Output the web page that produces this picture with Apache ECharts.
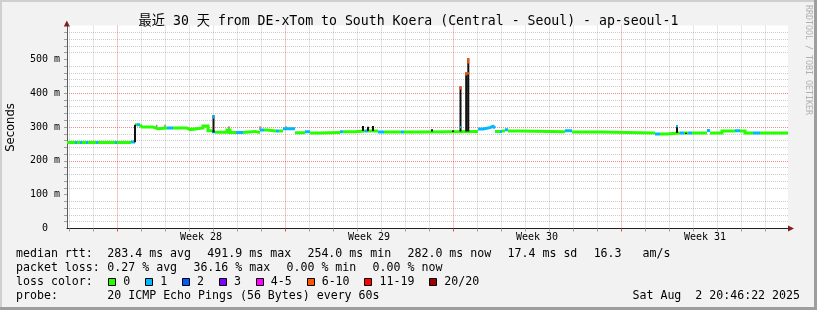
<!DOCTYPE html>
<html><head><meta charset="utf-8">
<script src="https://cdn.jsdelivr.net/npm/echarts@6/dist/echarts.min.js"></script>
<style>html,body{margin:0;padding:0;background:#f2f2f2}#c{width:817px;height:310px}</style>
</head><body><div id="c"></div>
<script>
// ---------- data ----------
const titleText = '最近 30 天 from DE-xTom to South Koera (Central - Seoul) - ap-seoul-1';
const yAxisTitle = 'Seconds';
const watermark = 'RRDTOOL / TOBI OETIKER';
const weekLabels = ['Week 28', 'Week 29', 'Week 30', 'Week 31'];
const yTickLabels = ['0  ', '100 m', '200 m', '300 m', '400 m', '500 m'];
// time in hours relative to the start of Week 28; chart spans 30 days
const xMin = -50, xMax = 671;
// median rtt (ms) as steps: start hour, value, loss bucket index
const medianHours = [-50,-42,-40,-37,-35,-31,-29,-21,-19,-2,0,14,18,20,23,25,36,41,50,56,70,73,86,91,95,98,110,113,119,126,128,138,143,147,150,159,162,166,178,188,193,203,223,226,238,248,251,261,267,284,287,303,361,366,373,376,378,383,385,388,391,403,448,455,483,523,538,543,549,563,567,571,575,590,593,605,618,623,628,636,643];
const medianMs    = [254.5,254.5,254.5,254.5,254.5,254.5,254.5,254.5,254.5,254.5,254.5,255.5,306.5,306.5,306.5,299.7,294.7,297.3,297.3,297.3,292.3,297,303,289,286,284.3,291,284,284,284,287,284,291,291,288,288,288,295,283,286,282,284,286,286,288,288,288,285,285,285,285,287,294,298,302,297,287,287,288,292,288,286,289,285,283,282,279,279,282,282,282,282,282,290,282,288,289,288,282,282,282];
const medianLoss  = [0,1,0,1,0,1,0,1,0,1,0,1,0,1,0,0,0,0,1,0,0,0,0,0,1,0,0,0,1,0,0,0,1,0,0,1,0,1,0,1,0,0,1,0,0,1,0,1,0,1,0,0,1,1,1,1,0,1,0,1,0,0,1,0,0,0,1,0,0,1,0,1,0,1,0,0,1,0,0,1,0];
// dark smoke spikes (ms)
const spikeHours = [18, 96.5, 246, 251, 256, 315, 336, 343.5, 349.2, 351.3, 560, 569];
const spikeLow   = [255, 284, 288, 288, 288, 287, 285, 287, 287, 287, 282, 279];
const spikeHigh  = [307, 335, 303, 301, 303, 293, 290, 420, 461, 503, 306, 283];
// light smoke ticks (ms)
const smokeHours = [39.7, 48, 112, 143, 169];
const smokeLow   = [297, 297, 291, 291, 295];
const smokeHigh  = [307, 307, 302, 302, 302];
// coloured tops of spikes: loss bucket index
const topHours = [343.5, 349.2, 351.3, 351.3, 96.5, 560, 343.5];
const topLow   = [411, 452, 488, 455, 325, 299, 296];
const topHigh  = [420, 461, 503, 462, 335, 306, 302];
const topLoss  = [5, 5, 5, 5, 1, 1, 1];
// legend / statistics
const rttLabel = 'median rtt:';
const rttStats = ['283.4 ms avg', '491.9 ms max', '254.0 ms min', '282.0 ms now', '17.4 ms sd', '16.3   am/s'];
const lossLabel = 'packet loss:';
const lossStats = ['0.27 % avg', '36.16 % max', '0.00 % min', '0.00 % now'];
const lossColorLabel = 'loss color:';
const lossBuckets = ['0', '1', '2', '3', '4-5', '6-10', '11-19', '20/20'];
const lossColors = ['#26ff00', '#00b8ff', '#0059ff', '#7e00ff', '#ff00ff', '#ff5500', '#ff0000', '#a10000'];
const probeLabel = 'probe:';
const probeText = '20 ICMP Echo Pings (56 Bytes) every 60s';
const dateText = 'Sat Aug  2 20:46:22 2025';

// ---------- build ----------
const MONO = "'DejaVu Sans Mono', 'Noto Sans CJK SC', monospace";
const weekStarts = weekLabels.map((_, i) => i * 168);
const weekMids = weekLabels.map((_, i) => i * 168 + 84);
const dayTicks = [];
for (let d = -48; d <= xMax; d += 24) if (d % 168 !== 0) dayTicks.push(d);
const yMinor = [];
for (let v = 20; v < 600; v += 20) if (v % 100 !== 0) yMinor.push(v);
const yMajor = [100, 200, 300, 400, 500];

function bucketData(b) {
  const out = [];
  const n = medianHours.length;
  for (let i = 0; i < n; i++) {
    if (medianLoss[i] !== b) continue;
    const end = i + 1 < n ? medianHours[i + 1] : xMax;
    out.push([medianHours[i], medianMs[i]]);
    out.push([end, medianMs[i]]);
    if (!(i + 1 < n && medianLoss[i + 1] === b)) out.push([end, null]);
  }
  return out;
}
function vData(h, lo, hi, filter) {
  const out = [];
  for (let i = 0; i < h.length; i++) {
    if (filter && !filter(i)) continue;
    out.push([h[i], lo[i]], [h[i], hi[i]], [h[i], null]);
  }
  return out;
}
function lineSeries(name, data, color, width, z) {
  return { name, type: 'line', data, symbol: 'none', silent: true, connectNulls: false,
    animation: false, z, lineStyle: { color, width, cap: 'butt', join: 'miter' } };
}

const series = [
  lineSeries('smoke', vData(smokeHours, smokeLow, smokeHigh), '#8a8a8a', 1.5, 2),
  lineSeries('loss 0', bucketData(0), lossColors[0], 3, 3),
  lineSeries('loss 1', bucketData(1), lossColors[1], 3, 4),
  lineSeries('spikes', vData(spikeHours, spikeLow, spikeHigh), '#111111', 2, 5),
  lineSeries('top 6-10', vData(topHours, topLow, topHigh, i => topLoss[i] === 5), lossColors[5], 2, 6),
  lineSeries('top 1', vData(topHours, topLow, topHigh, i => topLoss[i] === 1), lossColors[1], 2, 6)
];

const gridGray = 'rgba(143,143,143,0.45)';
const gridRed = 'rgba(222,79,79,0.65)';

const graphic = [];
function txt(x, y, text, size, opts) {
  graphic.push(Object.assign({ type: 'text', x, y, silent: true, z: 100,
    style: { text, fontSize: size, fontFamily: MONO, fill: '#000', align: 'left', verticalAlign: 'middle' } }, opts || {}));
}
// borders
graphic.push({ type: 'rect', shape: { x: 0, y: 0, width: 817, height: 2 }, style: { fill: '#cfcfcf' }, silent: true, z: 90 });
graphic.push({ type: 'rect', shape: { x: 0, y: 0, width: 2, height: 310 }, style: { fill: '#cfcfcf' }, silent: true, z: 90 });
graphic.push({ type: 'rect', shape: { x: 814, y: 0, width: 3, height: 310 }, style: { fill: '#9e9e9e' }, silent: true, z: 91 });
graphic.push({ type: 'rect', shape: { x: 0, y: 307, width: 817, height: 3 }, style: { fill: '#9e9e9e' }, silent: true, z: 91 });
// arrows
graphic.push({ type: 'polygon', shape: { points: [[66.8, 20.5], [63.8, 26.5], [69.8, 26.5]] }, style: { fill: '#801f1f' }, silent: true, z: 95 });
graphic.push({ type: 'polygon', shape: { points: [[794, 228.5], [788, 225.5], [788, 231.5]] }, style: { fill: '#801f1f' }, silent: true, z: 95 });
// title & labels
txt(408.5, 22, titleText, 13.2, { style: { text: titleText, fontSize: 13.2, fontFamily: MONO, fill: '#000', align: 'center', verticalAlign: 'middle' } });
txt(10.5, 127.5, yAxisTitle, 11.6, { rotation: Math.PI / 2, style: { text: yAxisTitle, fontSize: 11.6, fontFamily: "'DejaVu Sans', sans-serif", fill: '#000', align: 'center', verticalAlign: 'middle' } });
txt(808, 5, watermark, 8.3, { rotation: -Math.PI / 2, style: { text: watermark, fontSize: 8.3, fontFamily: MONO, fill: '#b0b0b0', align: 'left', verticalAlign: 'middle' } });

const CW = 6.98, GAP = 16.3, COL = 107.3, LX = 16;
const rowY = [254.4, 268.3, 282.2, 296.1];
function row(y, label, items) {
  txt(LX, y, label, 11.6);
  let x = COL;
  items.forEach(s => { txt(x, y, s, 11.6); x += s.length * CW + GAP; });
}
row(rowY[0], rttLabel, rttStats);
row(rowY[1], lossLabel, lossStats);
txt(LX, rowY[2], lossColorLabel, 11.6);
let bx = 108.3;
lossBuckets.forEach((b, i) => {
  graphic.push({ type: 'rect', shape: { x: Math.round(bx) + 0.5, y: 278.5, width: 7, height: 7 },
    style: { fill: lossColors[i], stroke: '#000', lineWidth: 1 }, silent: true, z: 100 });
  txt(bx + 15, rowY[2], b, 11.6);
  bx = bx + 15 + b.length * CW + 14.9;
});
txt(LX, rowY[3], probeLabel, 11.6);
txt(COL, rowY[3], probeText, 11.6);
txt(800, rowY[3], dateText, 11.6, { style: { text: dateText, fontSize: 11.6, fontFamily: MONO, fill: '#000', align: 'right', verticalAlign: 'middle' } });

const chart = echarts.init(document.getElementById('c'), null, { renderer: 'canvas' });
chart.setOption({
  backgroundColor: '#f2f2f2',
  animation: false,
  grid: { left: 67, right: 29, top: 25.5, bottom: 81.5, show: true, backgroundColor: '#ffffff', borderWidth: 0 },
  xAxis: [
    { type: 'value', min: xMin, max: xMax, position: 'bottom',
      axisLine: { show: true, onZero: false, lineStyle: { color: '#1f1f1f', width: 1 } },
      axisTick: { show: true, length: 3, customValues: dayTicks, lineStyle: { color: '#a0a0a0' } },
      axisLabel: { show: true, customValues: weekMids, margin: 4, fontSize: 10, fontFamily: MONO, color: '#000',
        formatter: v => { const i = weekMids.indexOf(v); return i >= 0 ? weekLabels[i] : ''; } },
      splitLine: { show: true, lineStyle: { color: gridGray, width: 1, type: [1, 1] } } },
    { type: 'value', min: xMin, max: xMax, position: 'bottom',
      axisLine: { show: false, onZero: false },
      axisTick: { show: true, length: 3, customValues: weekStarts, lineStyle: { color: '#de4f4f' } },
      axisLabel: { show: false },
      splitLine: { show: true, lineStyle: { color: gridRed, width: 1, type: [1, 1] } } }
  ],
  yAxis: [
    { type: 'value', min: 0, max: 600, interval: 20, position: 'left',
      axisLine: { show: true, onZero: false, lineStyle: { color: '#5a5a5a', width: 1 } },
      axisTick: { show: true, length: 3, customValues: yMinor, lineStyle: { color: '#a0a0a0' } },
      axisLabel: { show: false },
      splitLine: { show: true, lineStyle: { color: gridGray, width: 1, type: [1, 1] } } },
    { type: 'value', min: 0, max: 600, interval: 100, position: 'left',
      axisLine: { show: false, onZero: false },
      axisTick: { show: true, length: 3, customValues: yMajor, lineStyle: { color: '#a0a0a0' } },
      axisLabel: { show: true, margin: 7, fontSize: 10, fontFamily: MONO, color: '#000',
        formatter: v => yTickLabels[Math.round(v / 100)] || '' },
      splitLine: { show: true, showMinLine: false, showMaxLine: false, lineStyle: { color: gridRed, width: 1, type: [1, 1] } } }
  ],
  series,
  graphic
});
</script></body></html>
